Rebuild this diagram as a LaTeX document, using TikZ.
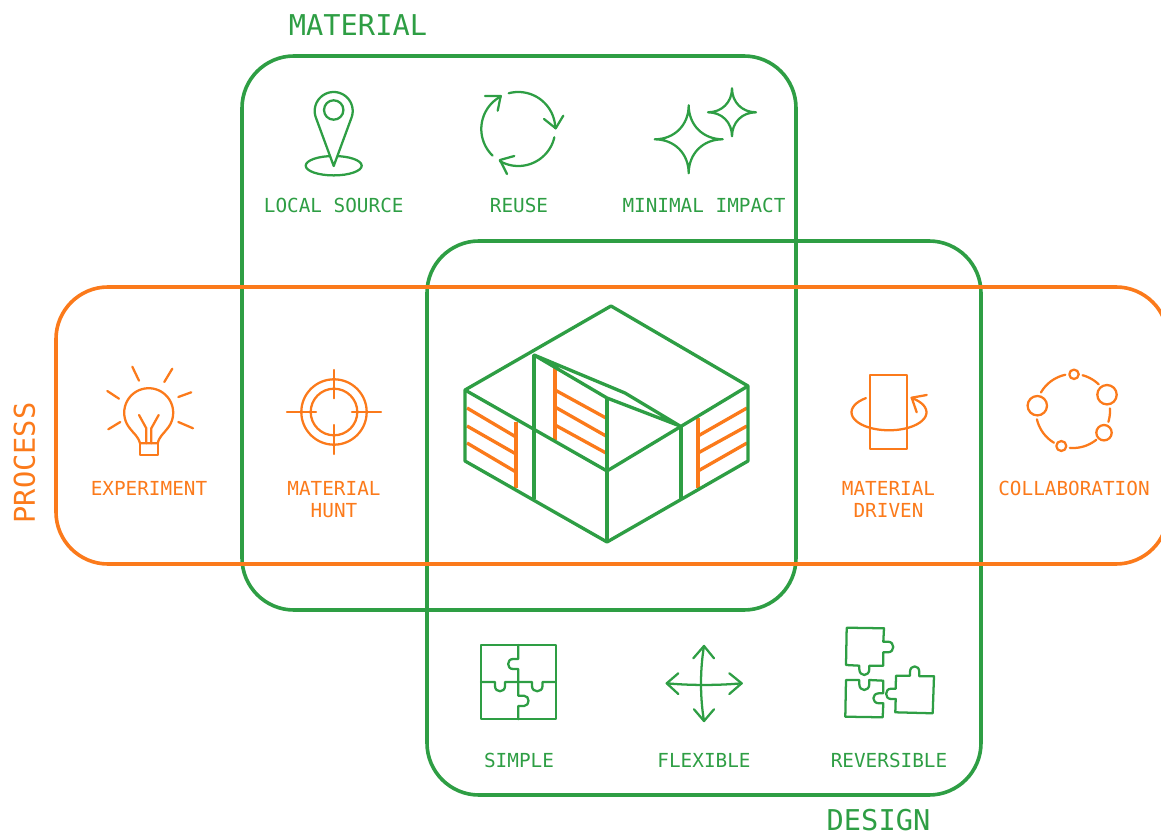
\documentclass[tikz,border=0pt]{standalone}
\usepackage{fontspec}
\setmonofont{DejaVu Sans Mono}
\definecolor{gr}{HTML}{2E9E44}
\definecolor{og}{HTML}{FB7A1B}
\newcommand{\myarc}[6][]{\draw[#2,#1] plot[domain=#5:#6,samples=40] ({\cxx+#3*cos(\x)},{\cyy-#4*sin(\x)});}
\newcommand{\myat}[2]{\def\cxx{#1}\def\cyy{#2}}
\newcommand{\mystar}[3]{\draw[gicon] (#1,#2-#3) .. controls (#1,#2-0.42*#3) and (#1+0.42*#3,#2) .. (#1+#3,#2) .. controls (#1+0.42*#3,#2) and (#1,#2+0.42*#3) .. (#1,#2+#3) .. controls (#1,#2+0.42*#3) and (#1-0.42*#3,#2) .. (#1-#3,#2) .. controls (#1-0.42*#3,#2) and (#1,#2-0.42*#3) .. cycle;}
\tikzset{
  x=0.75pt,y=-0.75pt,
  bigbox/.style={line width=2.7pt,rounded corners=39pt},
  gicon/.style={draw=gr,line width=1.7pt,line join=round,line cap=round},
  oicon/.style={draw=og,line width=1.7pt,line join=round,line cap=round},
  gwall/.style={draw=gr,line width=2.5pt,line join=round},
  owall/.style={draw=og,line width=2.5pt,line join=round},
  lab/.style={anchor=base,font=\ttfamily\fontsize{14.5}{14.5}\selectfont,inner sep=0pt},
  glab/.style={lab,text=gr},
  olab/.style={lab,text=og},
  head/.style={anchor=base,font=\ttfamily\fontsize{21.5}{21.5}\selectfont,inner sep=0pt},
}
\begin{document}
\begin{tikzpicture}
\useasboundingbox (0,0) rectangle (1161,838);
\clip (0,0) rectangle (1161,838);
% group frames
\draw[bigbox,draw=gr] (242,56) rectangle (796,610);
\draw[bigbox,draw=gr] (427,241) rectangle (981,795);
\draw[bigbox,draw=og] (56,287) rectangle (1168,564);
% headings
\node[head,text=gr] (hmaterial) at (358,36) {MATERIAL};
\node[head,text=gr] (hdesign) at (878.5,830.5) {DESIGN};
\node[head,text=og,rotate=90] (hprocess) at (35,463) {PROCESS};
% pin
\draw[gicon] (333.7,165.7) ellipse (28 and 9.7);
\draw[gicon,fill=white] (333.7,166) -- plot[domain=200:-20,samples=40] ({333.7+19*cos(\x)},{111-19*sin(\x)}) -- cycle;
\draw[gicon] (333.7,110) circle (9.7);
\node[glab] (localsource) at (333.7,212.5) {LOCAL SOURCE};
% reuse
\myat{518.3}{129}
\myarc{gicon}{37}{37}{105}{1}
\myarc{gicon}{37}{37}{-13}{-120}
\myarc{gicon}{37}{37}{-134}{-242}
\draw[gicon] (544,119) -- (555.7,128.3) -- (563.3,115.7);
\draw[gicon] (514.3,156) -- (500,160) -- (507,174);
\draw[gicon] (485,96) -- (500.7,96) -- (497.7,110.7);
\node[glab] (reuse) at (519,212.5) {REUSE};
% stars
\mystar{688.7}{139.3}{34}
\mystar{732}{112.3}{24}
\node[glab] (minimal) at (704,212.5) {MINIMAL IMPACT};
% bulb
\myat{148.7}{412.7}
\myarc{oicon}{24.5}{24.5}{220}{-40}
\draw[oicon] (129.9,428.4) .. controls (134,434) and (138,436) .. (140,443.3) -- (157.7,443.3) .. controls (159.5,436) and (163.5,434) .. (167.5,428.4);
\draw[oicon] (140,443.3) rectangle (157.7,455.3);
\draw[oicon] (139,415) -- (146.3,428.3) -- (146.3,443.3);
\draw[oicon] (158.7,415) -- (151.3,428.3) -- (151.3,443.3);
\draw[oicon] (132.3,366.7) -- (139,380.7);
\draw[oicon] (172.3,368.7) -- (164.3,382);
\draw[oicon] (107.3,391) -- (119,398.7);
\draw[oicon] (191.3,392.3) -- (178.3,397);
\draw[oicon] (108.3,429.3) -- (120.3,422);
\draw[oicon] (193,428.3) -- (178.3,422);
\node[olab] (experiment) at (149,495) {EXPERIMENT};
% target
\draw[oicon] (334,412) circle (32.7);
\draw[oicon] (334,412) circle (23.3);
\draw[oicon] (334,370) -- (334,398.3);
\draw[oicon] (334,425) -- (334,454);
\draw[oicon] (287,412) -- (316,412);
\draw[oicon] (352,412) -- (381,412);
\node[olab] (mathunt1) at (334,495) {MATERIAL};
\node[olab] (mathunt2) at (334,517) {HUNT};
% material driven
\draw[oicon] (870,374.7) rectangle (907.3,449.3);
\myat{889}{412.3}
\myarc{oicon}{37.5}{18}{128}{413}
\draw[oicon] (926.7,395) -- (911.7,397.7) -- (916.7,412.3);
\node[olab] (matdriven1) at (888.5,495) {MATERIAL};
\node[olab] (matdriven2) at (888.5,517) {DRIVEN};
% collaboration
\draw[oicon] (1074,374.3) circle (4.7);
\draw[oicon] (1107,394.7) circle (9.7);
\draw[oicon] (1104,432.7) circle (7.7);
\draw[oicon] (1061.3,446) circle (5);
\draw[oicon] (1037.3,405.7) circle (9.7);
\myat{1073}{411}
\myarc{oicon}{37}{37}{150}{102}
\myarc{oicon}{37}{37}{75}{46}
\myarc{oicon}{37}{37}{4}{-17}
\myarc{oicon}{37}{37}{-51}{-95}
\myarc{oicon}{37}{37}{-121}{-167}
\node[olab] (collab) at (1074,495) {COLLABORATION};
% simple puzzle
\draw[gicon] (481,645) rectangle (555.7,719.3);
\draw[gicon] (518.3,645) -- (518.3,659) -- (513,659) .. controls (506.5,659) and (506.5,669) .. (513,669) -- (518.3,669) -- (518.3,695.7) -- (524,695.7) .. controls (530,695.7) and (530,706) .. (524,706) -- (518.3,706) -- (518.3,719.3);
\draw[gicon] (481,682) -- (495,682) -- (495,686) .. controls (495,693) and (505,693) .. (505,686) -- (505,682) -- (532,682) -- (532,686) .. controls (532,693) and (542.5,693) .. (542.5,686) -- (542.5,682) -- (555.7,682);
\node[glab] (simple) at (519,767) {SIMPLE};
% flexible
\draw[gicon] (666.7,683.3) .. controls (690,685.5) and (718,685.5) .. (741.7,683.3);
\draw[gicon] (704,646) .. controls (700,670) and (700,697) .. (704,721);
\draw[gicon] (678.3,673.3) -- (666.7,683.3) -- (678.3,694);
\draw[gicon] (729.3,673.3) -- (741.7,683.3) -- (729.3,694);
\draw[gicon] (693.3,658.3) -- (704,646) -- (714,658.3);
\draw[gicon] (694,709.3) -- (704,721) -- (714,709.3);
\node[glab] (flexible) at (704,767) {FLEXIBLE};
% reversible
\draw[gicon] (846.7,627.7) -- (884,628.3) -- (883.3,641.7) -- (888,641.7) .. controls (895,641.7) and (895,652.3) .. (888,652.3) -- (883.3,652.3) -- (883.3,665.7) -- (869.3,665.7) -- (869.3,669) .. controls (869.3,677) and (859.3,677) .. (859.3,669) -- (859.3,665.7) -- (846,665) -- cycle;
\draw[gicon] (846,680) -- (859.3,680) -- (859.3,684) .. controls (859.3,692) and (869.3,692) .. (869.3,684) -- (869.3,680) -- (883.3,680.7) -- (883.3,693.3) -- (879,693.3) .. controls (871.5,693.3) and (871.5,703.3) .. (879,703.3) -- (883.3,703.3) -- (882.7,717.3) -- (845.3,716.7) -- cycle;
\draw[gicon] (896,675.7) -- (910,675.7) -- (910,672) .. controls (910,664.5) and (919.3,664.5) .. (919.3,672) -- (919.3,676.3) -- (934,676.3) -- (932.7,713.3) -- (895.3,712.3) -- (895.7,699) -- (891,699) .. controls (884.5,699) and (884.5,688.7) .. (891,688.7) -- (895.7,688.7) -- cycle;
\node[glab] (reversible) at (889,767) {REVERSIBLE};
% house: orange slats
\draw[owall] (516,422) -- (516,488);
\draw[owall] (467,408) -- (516,437);
\draw[owall] (467,426) -- (516,454);
\draw[owall] (467,443) -- (516,472);
\draw[owall] (555,368) -- (555,440);
\draw[owall] (555,390) -- (606,418);
\draw[owall] (555,407) -- (606,436);
\draw[owall] (555,425) -- (606,453);
\draw[owall] (698,418) -- (698,488);
\draw[owall] (698,436) -- (747,408);
\draw[owall] (698,453) -- (747,426);
\draw[owall] (698,471) -- (747,443);
% house: green lines
\draw[gwall] (465,390) -- (611,306) -- (748,386) -- (748,461) -- (607,542) -- (465,461) -- cycle;
\draw[gwall] (465,390) -- (607,471) -- (748,386);
\draw[gwall] (607,398) -- (607,542);
\draw[gwall] (534,355) -- (534,499);
\draw[gwall] (681,426) -- (681,499);
\draw[gwall] (534,355) -- (625,393) -- (680,426) -- (607,398) -- cycle;
\end{tikzpicture}
\end{document}
